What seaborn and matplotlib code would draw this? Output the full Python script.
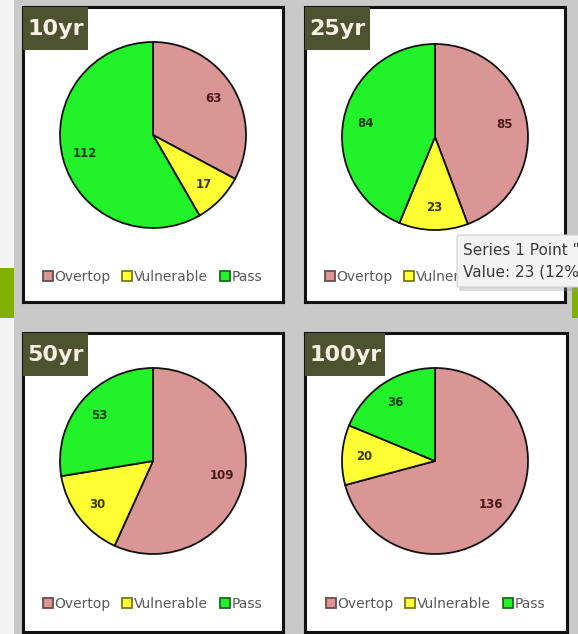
import matplotlib
matplotlib.use("Agg")
import matplotlib.pyplot as plt
from matplotlib.patches import Rectangle, FancyBboxPatch
from matplotlib.lines import Line2D
import seaborn as sns

sns.set_theme(style="white")
plt.rcParams["font.family"] = ["DejaVu Sans"]

# ---- data -------------------------------------------------------------
categories = ["Overtop", "Vulnerable", "Pass"]
periods = ["10yr", "25yr", "50yr", "100yr"]
overtop = [63, 85, 109, 136]
vulnerable = [17, 23, 30, 20]
passed = [112, 84, 53, 36]

# ---- styling ----------------------------------------------------------
fill_colors = sns.color_palette(["#da9694", "#ffff33", "#22f22a"])
label_colors = ["#4a1a1a", "#3a3a00", "#0b3d0b"]
legend_edges = ["#6b4a4a", "#7a7a10", "#1a6a1a"]
W, H = 578, 634
fig = plt.figure(figsize=(W / 100, H / 100), dpi=100)
fig.patch.set_facecolor("#c9c9c9")


def fx(x):
    return x / W


def fy(y):
    return 1 - y / H


def add_px_axes(x0, y0, x1, y1):
    return fig.add_axes([fx(x0), fy(y1), fx(x1) - fx(x0), fy(y0) - fy(y1)])


# white strip and green side tabs at the page edges
fig.patches.append(Rectangle((0, 0), fx(14), 1, transform=fig.transFigure,
                             facecolor="#f4f4f4", edgecolor="none", zorder=0))
fig.patches.append(Rectangle((0, fy(318)), fx(14), fy(268) - fy(318),
                             transform=fig.transFigure, facecolor="#80b000",
                             edgecolor="none", zorder=5))
fig.patches.append(Rectangle((fx(572), fy(318)), fx(6), fy(268) - fy(318),
                             transform=fig.transFigure, facecolor="#80b000",
                             edgecolor="none", zorder=5))

panels = [(23, 7, 283, 302), (305, 7, 565, 302),
          (23, 333, 283, 632), (305, 333, 567, 632)]
centers = [(153, 135), (435, 137), (153, 461), (435, 461)]
title_w = [65, 65, 65, 80]
R = 93

for i, period in enumerate(periods):
    x0, y0, x1, y1 = panels[i]
    frame = add_px_axes(x0, y0, x1, y1)
    frame.set_facecolor("white")
    frame.set_xticks([])
    frame.set_yticks([])
    for s in frame.spines.values():
        s.set_visible(True)
        s.set_color("#111111")
        s.set_linewidth(2.2)

    # period badge
    frame.add_patch(Rectangle((0, 1), title_w[i] / (x1 - x0), -43 / (y1 - y0),
                              transform=frame.transAxes, facecolor="#4d5330",
                              edgecolor="none", zorder=3))
    frame.text(4 / (x1 - x0), 1 - 22 / (y1 - y0), period, transform=frame.transAxes,
               ha="left", va="center", fontsize=16, fontweight="bold",
               color="#f4f1e4", zorder=4)

    # pie
    cx, cy = centers[i]
    m = 1.05
    pax = add_px_axes(cx - R * m, cy - R * m, cx + R * m, cy + R * m)
    vals = [overtop[i], vulnerable[i], passed[i]]
    wedges, texts = pax.pie(vals, colors=fill_colors, startangle=90,
                            counterclock=False, radius=1,
                            labels=[str(v) for v in vals], labeldistance=0.76,
                            wedgeprops=dict(edgecolor="#111111", linewidth=1.3))
    for t, c in zip(texts, label_colors):
        t.set_ha("center")
        t.set_va("center")
        t.set_fontsize(8.5)
        t.set_fontweight("bold")
        t.set_color(c)
    pax.set_xlim(-m, m)
    pax.set_ylim(-m, m)
    pax.set_aspect("equal")
    pax.axis("off")

    # legend
    handles = [Line2D([], [], marker="s", linestyle="none", markersize=6.5,
                      markerfacecolor=fill_colors[k], markeredgecolor=legend_edges[k],
                      markeredgewidth=1.3) for k in range(3)]
    ly = 277 if i < 2 else 604
    frame.legend(handles, categories, loc="center",
                 bbox_to_anchor=(0.5, 1 - (ly - y0) / (y1 - y0)),
                 ncol=3, frameon=False, fontsize=10, handlelength=0.6,
                 handletextpad=0.2, columnspacing=0.9, labelcolor="#595959")

# hover tooltip over the 25yr chart
tip = FancyBboxPatch((fx(457), fy(287)), fx(130), fy(235) - fy(287),
                     boxstyle="round,pad=0,rounding_size=0.004",
                     transform=fig.transFigure, facecolor="#f3f3f3",
                     edgecolor="#d0d0d0", linewidth=0.8, zorder=20)
shadow = Rectangle((fx(459), fy(291)), fx(130), fy(235) - fy(287),
                   transform=fig.transFigure, facecolor="#9a9a9a", alpha=0.35,
                   edgecolor="none", zorder=19)
fig.patches.extend([shadow, tip])
fig.text(fx(463), fy(251), "Series 1 Point \"25yr\"", fontsize=11,
         color="#3a3a3a", ha="left", va="center", zorder=21)
fig.text(fx(463), fy(272), "Value: 23 (12%)", fontsize=11,
         color="#3a3a3a", ha="left", va="center", zorder=21)

fig.savefig("out.png", dpi=100)
